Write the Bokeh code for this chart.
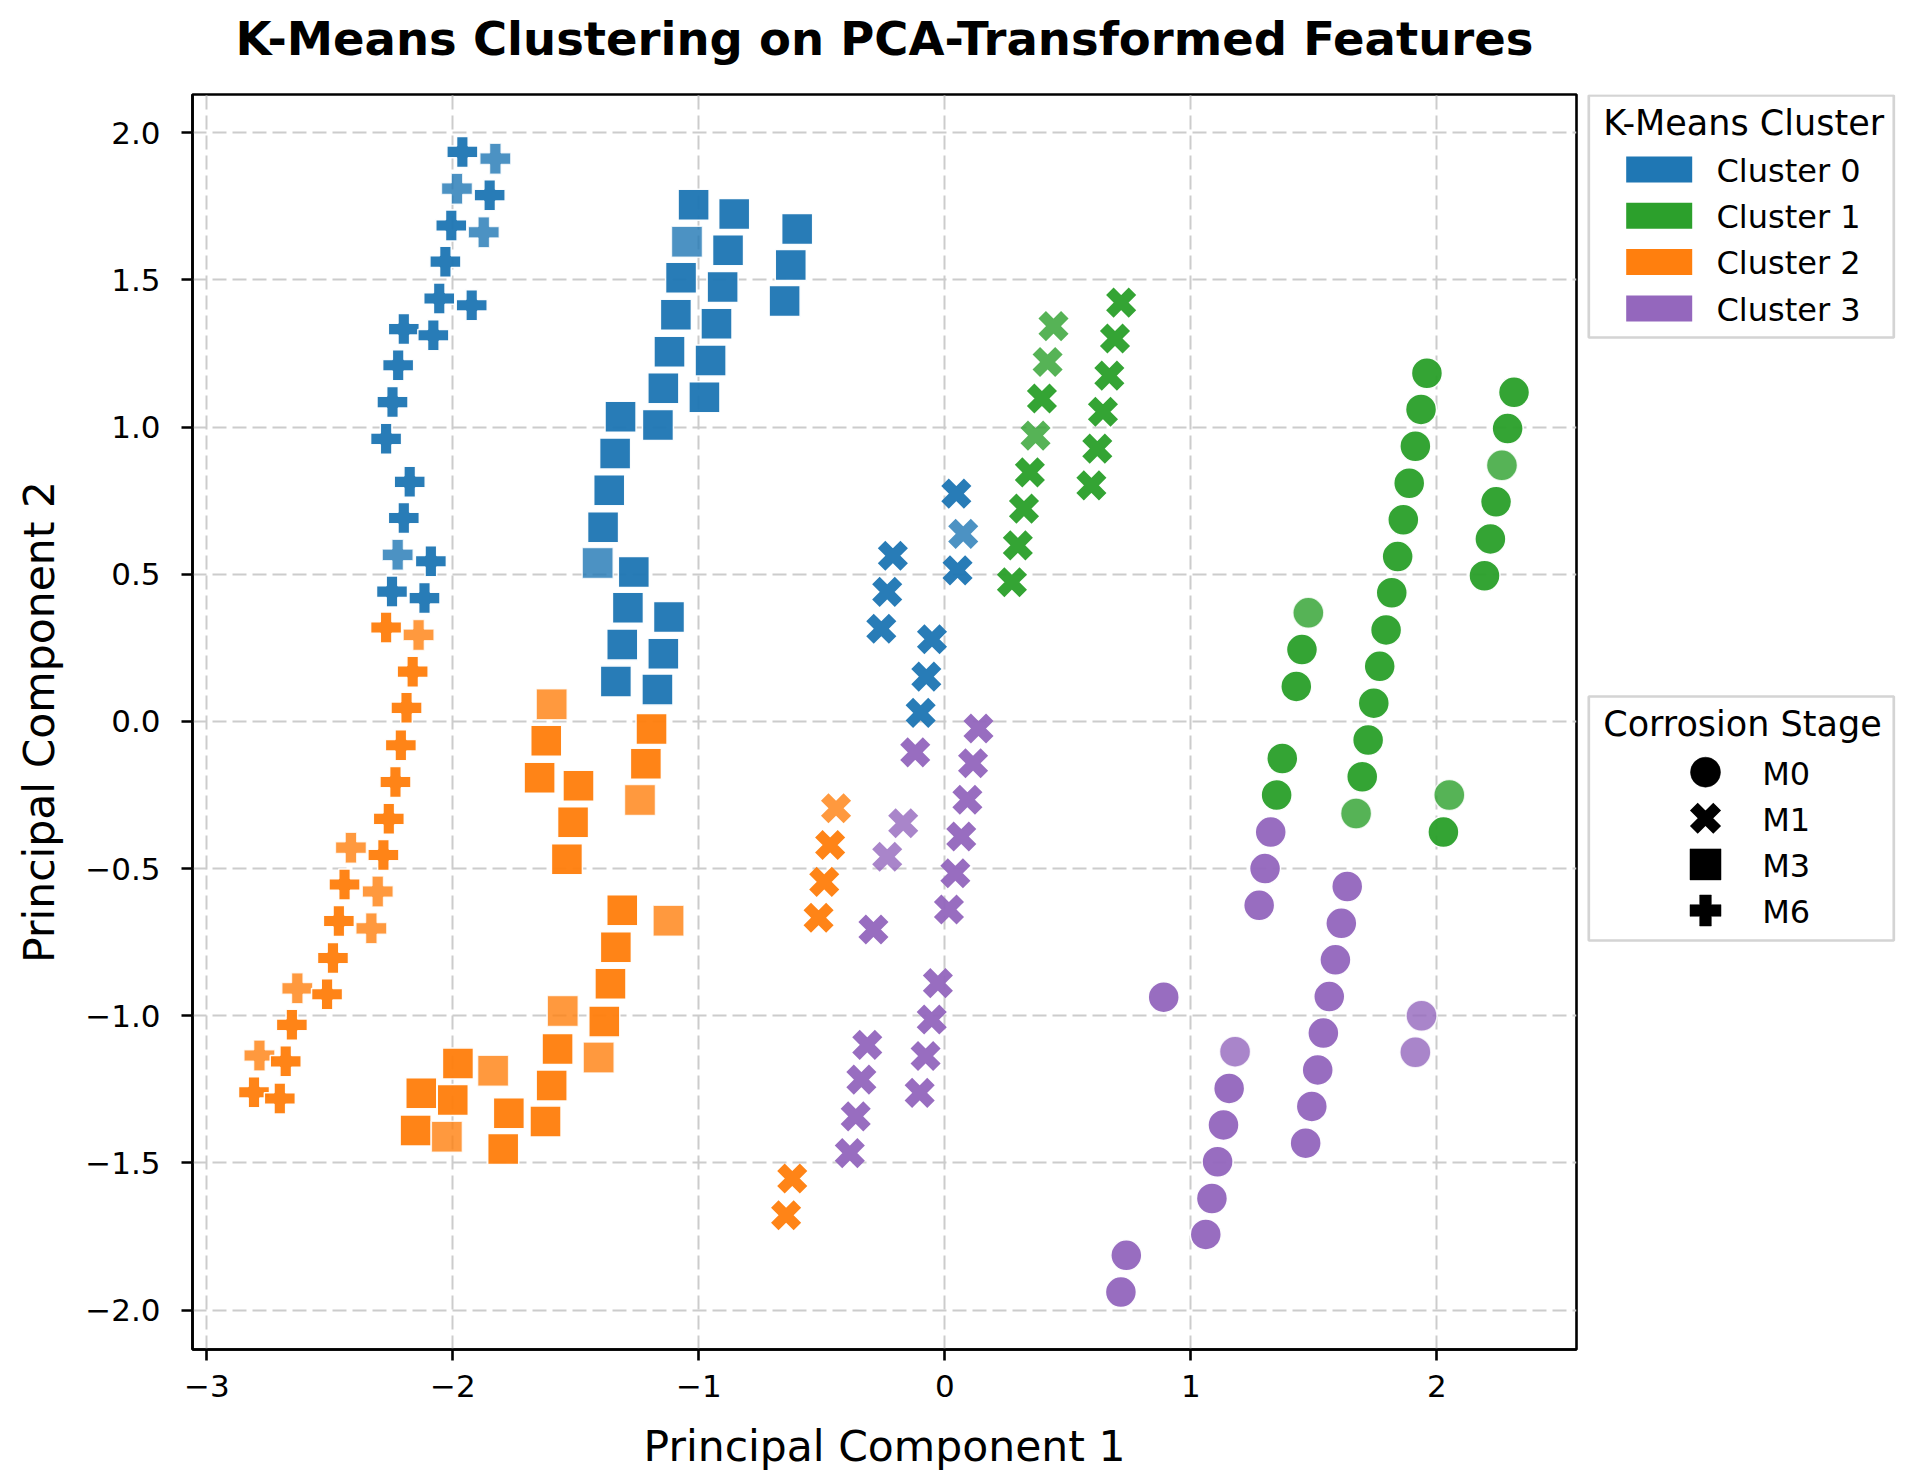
from bokeh.plotting import figure
from bokeh.layouts import row, column
from bokeh.models import Range1d, FixedTicker, ColumnDataSource
from bokeh.core.properties import value
from bokeh.embed import file_html
from bokeh.resources import INLINE

# ---------------- data ----------------
title_text = "K-Means Clustering on PCA-Transformed Features"
cluster_names = ["Cluster 0", "Cluster 1", "Cluster 2", "Cluster 3"]
cluster_colors = ["#1f77b4", "#2ca02c", "#ff7f0e", "#9467bd"]
stage_names = ["M0", "M1", "M3", "M6"]

x_ticks = [-3, -2, -1, 0, 1, 2]
x_tick_labels = ["\u22123", "\u22122", "\u22121", "0", "1", "2"]
y_ticks = [-2.0, -1.5, -1.0, -0.5, 0.0, 0.5, 1.0, 1.5, 2.0]
y_tick_labels = ["\u22122.0", "\u22121.5", "\u22121.0", "\u22120.5", "0.0", "0.5", "1.0", "1.5", "2.0"]

# n = number of overlapping samples drawn at that position
c0_m6_x = [-1.961, -1.827, -1.983, -1.850, -2.006, -1.874, -2.030, -2.055, -1.923, -2.199,
           -2.079, -2.222, -2.245, -2.271, -2.175, -2.199, -2.224, -2.089, -2.247, -2.115]
c0_m6_y = [1.935, 1.912, 1.810, 1.788, 1.685, 1.662, 1.562, 1.437, 1.414, 1.333,
           1.312, 1.210, 1.085, 0.960, 0.814, 0.691, 0.566, 0.544, 0.441, 0.419]
c0_m6_n = [2, 1, 1, 2, 2, 1, 2, 2, 2, 2, 2, 2, 2, 2, 2, 2, 1, 2, 2, 2]

c0_m3_x = [-1.021, -0.856, -0.600, -1.048, -0.881, -0.626, -1.072, -0.903, -0.651, -1.093,
           -0.928, -1.119, -0.952, -1.144, -0.977, -1.318, -1.166, -1.340, -1.364, -1.389,
           -1.411, -1.264, -1.288, -1.121, -1.311, -1.144, -1.337, -1.168]
c0_m3_y = [1.755, 1.724, 1.673, 1.630, 1.601, 1.551, 1.507, 1.476, 1.428, 1.382,
           1.351, 1.256, 1.226, 1.132, 1.101, 1.035, 1.007, 0.910, 0.785, 0.660,
           0.538, 0.508, 0.386, 0.355, 0.261, 0.230, 0.136, 0.108]
c0_m3_n = [2, 2, 2, 1, 2, 2, 2, 2, 2, 2, 2, 2, 2, 2, 2, 2, 2, 2, 2, 2, 1, 2, 2, 2, 2, 2, 2, 2]

c0_m1_x = [0.047, 0.075, 0.052, -0.211, -0.234, -0.258, -0.052, -0.075, -0.098]
c0_m1_y = [0.774, 0.637, 0.513, 0.563, 0.440, 0.315, 0.279, 0.152, 0.029]
c0_m1_n = [2, 1, 2, 2, 2, 2, 2, 2, 2]

c1_m1_x = [0.717, 0.692, 0.669, 0.643, 0.620, 0.596, 0.442, 0.418, 0.395, 0.369,
           0.346, 0.322, 0.297, 0.273]
c1_m1_y = [1.423, 1.301, 1.175, 1.052, 0.927, 0.802, 1.343, 1.221, 1.097, 0.971,
           0.846, 0.723, 0.598, 0.473]
c1_m1_n = [2, 2, 2, 2, 2, 2, 1, 1, 2, 1, 2, 2, 2, 2]

c1_m0_x = [1.960, 1.936, 1.913, 1.888, 1.864, 1.841, 1.817, 1.794, 1.768, 1.744,
           2.314, 2.288, 2.265, 2.241, 2.218, 2.194, 1.478, 1.452, 1.429, 1.721,
           1.697, 1.672, 1.372, 1.349, 2.051, 2.027]
c1_m0_y = [1.183, 1.060, 0.935, 0.809, 0.685, 0.560, 0.437, 0.311, 0.187, 0.062,
           1.118, 0.995, 0.870, 0.746, 0.620, 0.495, 0.369, 0.244, 0.119, -0.063,
           -0.188, -0.313, -0.126, -0.250, -0.250, -0.376]
c1_m0_n = [2, 2, 2, 2, 2, 2, 2, 2, 2, 2, 2, 2, 1, 2, 2, 2, 1, 2, 2, 2, 2, 1, 2, 2, 1, 2]

c2_m6_x = [-2.271, -2.139, -2.163, -2.188, -2.211, -2.233, -2.260, -2.414, -2.282, -2.440,
           -2.305, -2.463, -2.331, -2.487, -2.632, -2.511, -2.654, -2.786, -2.679, -2.808, -2.703]
c2_m6_y = [0.319, 0.294, 0.169, 0.046, -0.081, -0.206, -0.331, -0.429, -0.454, -0.554,
           -0.578, -0.678, -0.703, -0.804, -0.907, -0.927, -1.031, -1.135, -1.155, -1.260, -1.281]
c2_m6_n = [2, 1, 2, 2, 2, 2, 2, 1, 2, 2, 1, 2, 1, 2, 1, 2, 2, 1, 2, 2, 2]

c2_m3_x = [-1.598, -1.192, -1.620, -1.647, -1.489, -1.511, -1.536, -1.215, -1.239, -1.311,
           -1.123, -1.337, -1.359, -1.553, -1.384, -1.574, -1.407, -1.598, -1.979, -1.836,
           -2.128, -2.000, -1.623, -1.772, -2.151, -2.024, -1.795]
c2_m3_y = [0.058, -0.026, -0.066, -0.191, -0.219, -0.343, -0.468, -0.144, -0.267, -0.642,
           -0.677, -0.767, -0.891, -0.984, -1.020, -1.113, -1.142, -1.237, -1.162, -1.187,
           -1.263, -1.286, -1.359, -1.331, -1.390, -1.411, -1.453]
c2_m3_n = [1, 2, 2, 2, 2, 2, 2, 2, 1, 2, 1, 2, 2, 1, 2, 2, 1, 2, 2, 1, 2, 2, 2, 2, 2, 1, 2]

c2_m1_x = [-0.442, -0.466, -0.490, -0.513, -0.620, -0.645]
c2_m1_y = [-0.295, -0.420, -0.545, -0.667, -1.553, -1.678]
c2_m1_n = [1, 2, 2, 2, 2, 2]

c3_m1_x = [0.137, 0.115, 0.092, 0.067, 0.043, 0.017, -0.120, -0.169, -0.234, -0.290,
           -0.028, -0.053, -0.078, -0.102, -0.315, -0.339, -0.362, -0.386]
c3_m1_y = [-0.024, -0.142, -0.266, -0.391, -0.516, -0.639, -0.105, -0.346, -0.460, -0.707,
           -0.889, -1.013, -1.137, -1.262, -1.099, -1.217, -1.342, -1.467]
c3_m1_n = [2, 2, 2, 2, 2, 2, 2, 1, 1, 2, 2, 2, 2, 2, 2, 2, 2, 2]

c3_m0_x = [1.325, 1.302, 1.278, 1.636, 1.612, 1.588, 1.563, 1.539, 1.516, 1.492,
           1.467, 0.890, 1.180, 1.156, 1.133, 1.109, 1.086, 1.061, 0.738, 0.716, 1.938, 1.913]
c3_m0_y = [-0.376, -0.500, -0.625, -0.561, -0.686, -0.810, -0.935, -1.059, -1.184, -1.308,
           -1.433, -0.937, -1.122, -1.247, -1.371, -1.496, -1.621, -1.743, -1.814, -1.939,
           -1.000, -1.124]
c3_m0_n = [2, 2, 2, 2, 2, 2, 2, 2, 2, 2, 2, 2, 1, 2, 2, 2, 2, 2, 2, 2, 1, 1]

groups = [
    (0, "M6", c0_m6_x, c0_m6_y, c0_m6_n),
    (0, "M3", c0_m3_x, c0_m3_y, c0_m3_n),
    (0, "M1", c0_m1_x, c0_m1_y, c0_m1_n),
    (1, "M1", c1_m1_x, c1_m1_y, c1_m1_n),
    (1, "M0", c1_m0_x, c1_m0_y, c1_m0_n),
    (2, "M6", c2_m6_x, c2_m6_y, c2_m6_n),
    (2, "M3", c2_m3_x, c2_m3_y, c2_m3_n),
    (2, "M1", c2_m1_x, c2_m1_y, c2_m1_n),
    (3, "M1", c3_m1_x, c3_m1_y, c3_m1_n),
    (3, "M0", c3_m0_x, c3_m0_y, c3_m0_n),
]

# ---------------- styling ----------------
FONT = "DejaVu Sans"
MARKER = {"M0": "circle", "M1": "x", "M3": "square", "M6": "plus"}
SINGLE_ALPHA = 0.8
TITLE_H = 70          # height of the title strip above the chart
FRAME_TOP = 94        # page y of the top of the axes frame
FRAME_W, FRAME_H = 1384, 1255
BASE_SHIFT = 0.35     # text glyph baseline correction (fraction of font size)


def blank(fig):
    fig.grid.visible = False
    fig.outline_line_color = None
    fig.background_fill_color = "white"
    fig.border_fill_color = "white"


# ---------------- title strip ----------------
TITLE_FS = 46.5
head = figure(frame_width=FRAME_W, frame_height=TITLE_H,
              x_range=Range1d(0, 1), y_range=Range1d(TITLE_H, 0),
              x_axis_type=None, y_axis_type=None, output_backend="svg", toolbar_location=None,
              title=None, min_border_left=192, min_border_right=10, min_border_top=0,
              min_border_bottom=0)
blank(head)
head.text(x=[0.5], y=[55 - BASE_SHIFT * TITLE_FS], text=[title_text], text_font=value(FONT),
          text_font_size=f"{TITLE_FS}px", text_font_style="bold", text_color="black",
          text_align="center", text_baseline="alphabetic")

# ---------------- main chart ----------------
p = figure(
    frame_width=FRAME_W, frame_height=FRAME_H,
    x_range=Range1d(-3.058, 2.568), y_range=Range1d(-2.134, 2.130),
    min_border_left=192, min_border_right=10, min_border_top=FRAME_TOP - TITLE_H,
    min_border_bottom=120,
    output_backend="svg", toolbar_location=None, title=None,
)
p.background_fill_color = "white"
p.border_fill_color = "white"
p.outline_line_color = "black"
p.outline_line_width = 2.6
p.outline_line_alpha = 1.0

xt = FixedTicker(ticks=x_ticks)
yt = FixedTicker(ticks=y_ticks)
p.xaxis[0].ticker = xt
p.yaxis[0].ticker = yt
p.xgrid[0].ticker = xt
p.ygrid[0].ticker = yt
p.xaxis[0].major_label_overrides = {t: s for t, s in zip(x_ticks, x_tick_labels)}
p.yaxis[0].major_label_overrides = {t: s for t, s in zip(y_ticks, y_tick_labels)}

for ax in (p.xaxis[0], p.yaxis[0]):
    ax.axis_line_width = 2.6
    ax.axis_line_color = "black"
    ax.major_tick_line_width = 2.6
    ax.major_tick_line_color = "black"
    ax.major_tick_out = 11
    ax.major_tick_in = 0
    ax.minor_tick_out = 0
    ax.minor_tick_in = 0
    ax.major_label_text_font = FONT
    ax.major_label_text_font_size = "31px"
    ax.major_label_text_color = "black"
    ax.axis_label_text_font = FONT
    ax.axis_label_text_font_size = "42.5px"
    ax.axis_label_text_font_style = "normal"
    ax.axis_label_text_color = "black"

p.xaxis[0].axis_label = "Principal Component 1"
p.yaxis[0].axis_label = "Principal Component 2"
p.xaxis[0].major_label_standoff = 14
p.yaxis[0].major_label_standoff = 21
p.xaxis[0].axis_label_standoff = 22
p.yaxis[0].axis_label_standoff = 18

for g in (p.xgrid[0], p.ygrid[0]):
    g.grid_line_color = "#cccccc"
    g.grid_line_width = 2
    g.grid_line_dash = "14 6"

for ci, stage, xs, ys, ns in groups:
    color = cluster_colors[ci]
    alpha = [1 - (1 - SINGLE_ALPHA) ** n for n in ns]
    src = ColumnDataSource(dict(x=xs, y=ys, a=alpha))
    if stage == "M1":
        p.scatter("x", "y", source=src, marker="x", size=32,
                  line_color=color, line_width=10.6, line_alpha="a")
    else:
        p.scatter("x", "y", source=src, marker=MARKER[stage], size=31,
                  fill_color=color, fill_alpha="a",
                  line_color="white", line_width=1.5, line_alpha="a")

# ---------------- legends: side panel in page pixels (frame aligned with the chart frame) ----------------
SIDE_W = 326
side = figure(frame_width=SIDE_W, frame_height=FRAME_H,
              x_range=Range1d(0, SIDE_W), y_range=Range1d(FRAME_TOP + FRAME_H, FRAME_TOP),
              x_axis_type=None, y_axis_type=None, output_backend="svg", toolbar_location=None,
              title=None, min_border_left=0, min_border_right=0,
              min_border_top=FRAME_TOP - TITLE_H, min_border_bottom=0)
blank(side)

BOX_L, BOX_R = 2.3, 307.3
LEG_TITLE_FS = 35
LABEL_FS = 32


def legend_box(top, bottom, title):
    side.quad(left=[BOX_L], right=[BOX_R], top=[top], bottom=[bottom],
              fill_color="white", fill_alpha=0.8, line_color="#d4d4d4", line_width=2.7)
    side.text(x=[16.7], y=[top + 40 - BASE_SHIFT * LEG_TITLE_FS], text=[title],
              text_font=value(FONT), text_font_size=f"{LEG_TITLE_FS}px", text_color="black",
              text_baseline="alphabetic", text_align="left")


def legend_labels(xpos, rows, labels):
    side.text(x=[xpos] * len(rows), y=[r + 12.5 - BASE_SHIFT * LABEL_FS for r in rows],
              text=labels, text_font=value(FONT), text_font_size=f"{LABEL_FS}px",
              text_color="black", text_baseline="alphabetic", text_align="left")


# legend 1 : K-Means Cluster (colour patches)
legend_box(95, 337, "K-Means Cluster")
rows1 = [169 + i * 46.3 for i in range(len(cluster_names))]
side.quad(left=[39.7] * len(rows1), right=[105.7] * len(rows1),
          top=[r - 13 for r in rows1], bottom=[r + 13 for r in rows1],
          fill_color=cluster_colors, line_color=None)
legend_labels(130, rows1, cluster_names)

# legend 2 : Corrosion Stage (black markers)
legend_box(696, 940, "Corrosion Stage")
rows2 = [771.7 + i * 46.1 for i in range(len(stage_names))]
for st, ry in zip(stage_names, rows2):
    if st == "M1":
        side.scatter(x=[119], y=[ry], marker="x", size=33, line_color="black", line_width=11)
    elif st == "M0":
        side.scatter(x=[119], y=[ry], marker="circle", size=30,
                     fill_color="black", line_color="black", line_width=0.5)
    else:
        side.scatter(x=[119], y=[ry], marker=MARKER[st], size=31,
                     fill_color="black", line_color="black", line_width=0.5)
legend_labels(175.7, rows2, stage_names)

layout = column(head, row(p, side))
open("out.html", "w").write(file_html(layout, INLINE))
